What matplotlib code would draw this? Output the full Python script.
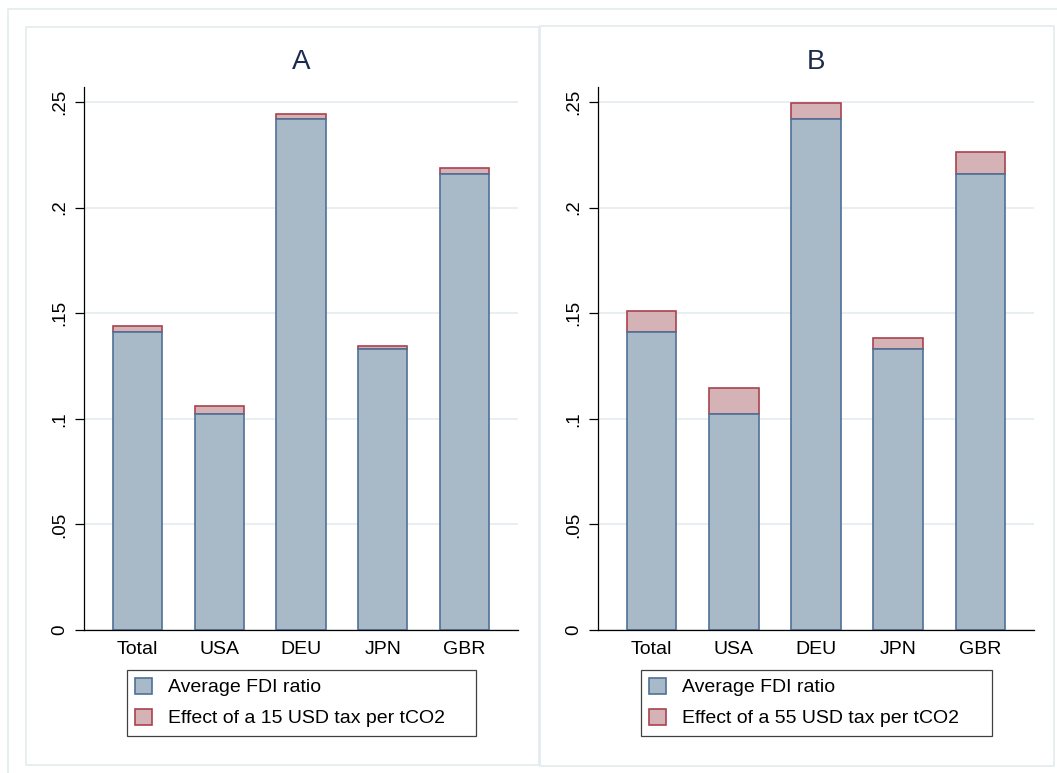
import numpy as np
import matplotlib.pyplot as plt
from matplotlib.patches import Rectangle

# Average FDI ratio and marginal effect of a carbon tax, by source country
countries = ['Total', 'USA', 'DEU', 'JPN', 'GBR']
fdi_ratio = [0.1413, 0.1023, 0.2418, 0.1330, 0.2158]
effect_15 = [0.0027, 0.0036, 0.0023, 0.0015, 0.0029]
effect_55 = [0.0098, 0.0123, 0.0077, 0.0053, 0.0105]

yticks = [0, 0.05, 0.1, 0.15, 0.2, 0.25]
ytick_labels = ['0', '.05', '.1', '.15', '.2', '.25']

plt.rcParams['font.family'] = ['Liberation Sans', 'DejaVu Sans']

W, H = 1057, 773
fig = plt.figure(figsize=(W / 100, H / 100), dpi=100)
fig.patch.set_facecolor('white')

frame_col = '#e3ebee'

def px_rect(x0, y0, x1, y1, **kw):
    # rectangle given in pixel coords measured from the top-left corner
    return Rectangle((x0 / W, 1 - y1 / H), (x1 - x0) / W, (y1 - y0) / H,
                     transform=fig.transFigure, fill=False, **kw)

fig.patches.append(px_rect(8, 9, 1070, 790, edgecolor=frame_col, lw=1.2))
fig.patches.append(px_rect(26, 27, 539, 765, edgecolor=frame_col, lw=1.2))
fig.patches.append(px_rect(540, 26, 1054, 766, edgecolor=frame_col, lw=1.2))

blue_fill, blue_edge = '#a8b9c8', '#4f7097'
red_fill, red_edge = '#d5b2b6', '#a9434e'

panels = [
    ('A', 84, 518, effect_15, 'Effect of a 15 USD tax per tCO2'),
    ('B', 598, 1034, effect_55, 'Effect of a 55 USD tax per tCO2'),
]

ax_top, ax_bot = 87, 630
x = np.arange(len(countries))

for title, left, right, effect, effect_label in panels:
    ax = fig.add_axes([left / W, 1 - ax_bot / H, (right - left) / W, (ax_bot - ax_top) / H])
    b1 = ax.bar(x, fdi_ratio, width=0.6, color=blue_fill, edgecolor=blue_edge,
                linewidth=1.2, label='Average FDI ratio', zorder=3)
    b2 = ax.bar(x, effect, width=0.6, bottom=fdi_ratio, color=red_fill,
                edgecolor=red_edge, linewidth=1.2, label=effect_label, zorder=2)

    ax.set_xlim(-0.655, 4.655)
    ax.set_ylim(0, 0.2571)
    ax.set_yticks(yticks)
    ax.set_yticklabels(ytick_labels, rotation=90, va='center', fontsize=13.5)
    ax.set_xticks(x)
    ax.set_xticklabels(countries, fontsize=14)
    ax.tick_params(axis='x', length=0, pad=8)
    ax.tick_params(axis='y', length=6.5, width=0.9, pad=5)
    ax.grid(axis='y', color='#e6eef1', linewidth=1.3, zorder=0)
    ax.set_axisbelow(True)
    for s in ['top', 'right']:
        ax.spines[s].set_visible(False)
    for s in ['left', 'bottom']:
        ax.spines[s].set_linewidth(0.9)
        ax.spines[s].set_zorder(4)

    ax.text(0.5, 1.046, title, transform=ax.transAxes, ha='center', va='center',
            fontsize=20, color='#1c2b4d')

    leg = ax.legend(handles=[b1, b2], loc='upper left',
                    bbox_to_anchor=(0.098, -0.2, 0.805, 0.127), mode='expand',
                    fontsize=14, frameon=True, fancybox=False, edgecolor='#404040',
                    framealpha=1, handlelength=0.88, handleheight=0.88,
                    handletextpad=0.82, labelspacing=0.63, borderpad=0.42,
                    borderaxespad=0)
    leg.get_frame().set_linewidth(0.9)

fig.savefig('out.png', dpi=100, facecolor='white')
